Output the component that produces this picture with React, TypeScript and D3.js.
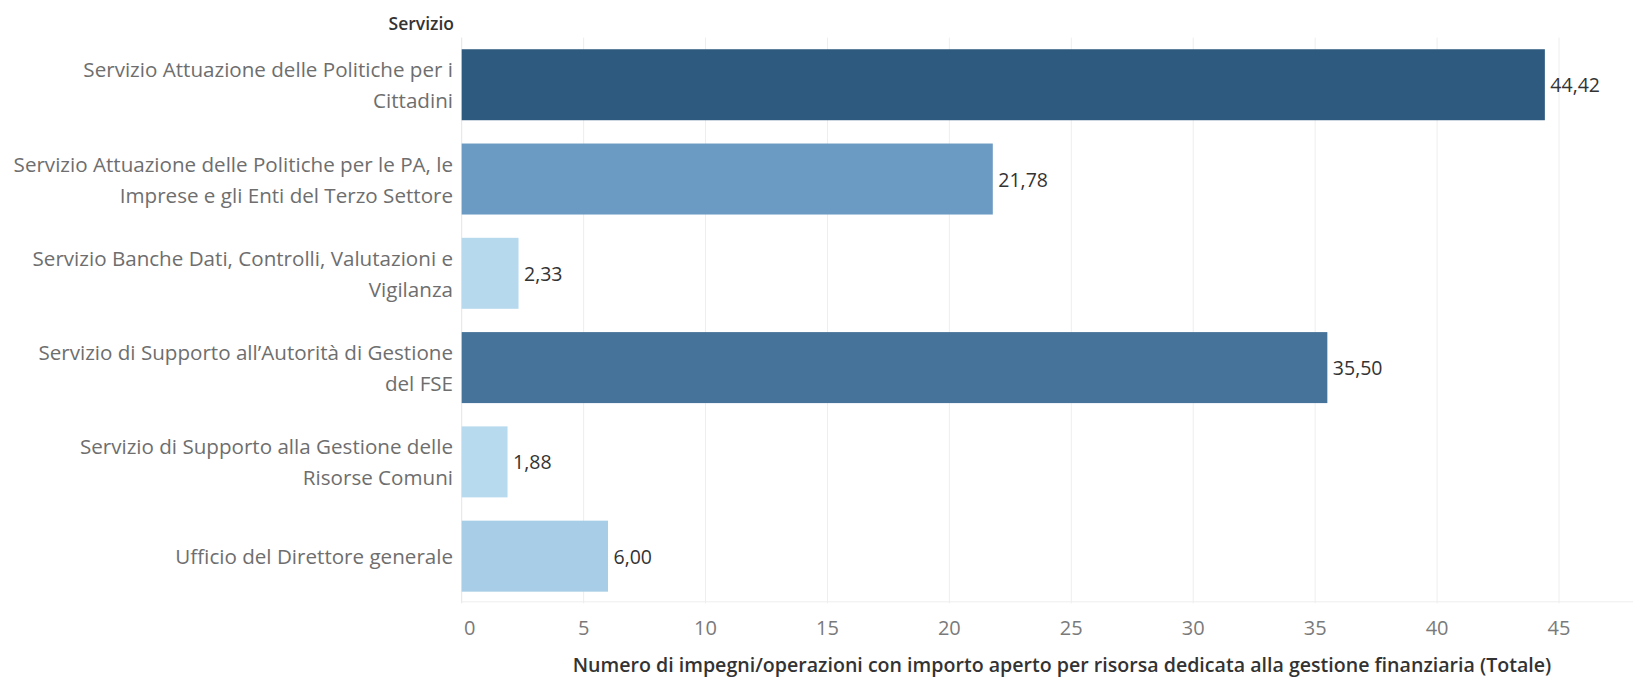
import React from "react";
import * as d3 from "d3";

// Servizio -> numero di impegni/operazioni per risorsa
const categories = [
  "Servizio Attuazione delle Politiche per i\nCittadini",
  "Servizio Attuazione delle Politiche per le PA, le\nImprese e gli Enti del Terzo Settore",
  "Servizio Banche Dati, Controlli, Valutazioni e\nVigilanza",
  "Servizio di Supporto all\u2019Autorit\u00e0 di Gestione\ndel FSE",
  "Servizio di Supporto alla Gestione delle\nRisorse Comuni",
  "Ufficio del Direttore generale",
];
const values = [44.42, 21.78, 2.33, 35.5, 1.88, 6.0];
const xTicks = [0, 5, 10, 15, 20, 25, 30, 35, 40, 45];
const headerLabel = "Servizio";
const axisTitle =
  "Numero di impegni/operazioni con importo aperto per risorsa dedicata alla gestione finanziaria (Totale)";

const W = 1633;
const H = 677;
const FONT = "'Open Sans', 'Noto Sans', sans-serif";

const itLocale = d3.formatLocale({
  decimal: ",",
  thousands: ".",
  grouping: [3],
  currency: ["€", ""],
});
const fmt = itLocale.format(".2f");

const App = () => {
  const x = d3.scaleLinear().domain([0, 45]).range([461.7, 1559]);
  const y = d3
    .scaleBand<number>()
    .domain(d3.range(categories.length))
    .range([37.6, 603.3])
    .paddingInner(0.247)
    .paddingOuter(0.1235);

  const color = d3
    .scaleLinear<string>()
    .domain([d3.min(values)!, 21.78, d3.max(values)!])
    .range(["#b8daef", "#6b9ac2", "#2e5a80"])
    .interpolate(d3.interpolateRgb);

  const paneTop = 37.6;
  const paneBottom = 603.3;

  return (
    <svg
      width={W}
      height={H}
      style={{ position: "absolute", left: 0, top: 0, background: "#fff" }}
      fontFamily={FONT}
    >
      {/* gridlines */}
      {xTicks.map((t) => (
        <line
          key={"g" + t}
          x1={x(t)}
          x2={x(t)}
          y1={paneTop}
          y2={paneBottom}
          stroke={t === 0 ? "#e4e4e4" : "#eeeeee"}
          strokeWidth={1}
        />
      ))}
      <line x1={x(0)} x2={W} y1={paneBottom - 1.5} y2={paneBottom - 1.5} stroke="#eeeeee" />

      {/* header */}
      <text
        x={454}
        y={23}
        textAnchor="end"
        dominantBaseline="central"
        fontSize={17.5}
        fontWeight={600}
        fill="#333"
      >
        {headerLabel}
      </text>

      {/* bars */}
      {values.map((v, i) => (
        <rect
          key={"b" + i}
          x={x(0)}
          y={y(i)}
          width={x(v) - x(0)}
          height={y.bandwidth()}
          fill={color(v)}
        />
      ))}

      {/* value labels */}
      {values.map((v, i) => (
        <text
          key={"v" + i}
          x={x(v) + 5.5}
          y={y(i)! + y.bandwidth() / 2}
          dominantBaseline="central"
          fontSize={19.5}
          fill="#333"
        >
          {fmt(v)}
        </text>
      ))}

      {/* category labels */}
      {categories.map((c, i) => {
        const lines = c.split("\n");
        const cy = y(i)! + y.bandwidth() / 2;
        const lh = 31;
        return (
          <text key={"c" + i} textAnchor="end" fontSize={20.6} fill="#6e6e6e">
            {lines.map((ln, j) => (
              <tspan
                key={j}
                x={453}
                y={cy + (j - (lines.length - 1) / 2) * lh}
                dominantBaseline="central"
              >
                {ln}
              </tspan>
            ))}
          </text>
        );
      })}

      {/* tick labels */}
      {xTicks.map((t) => (
        <text
          key={"t" + t}
          x={x(t) + (t === 0 ? 8 : 0)}
          y={627}
          textAnchor="middle"
          dominantBaseline="central"
          fontSize={20}
          fill="#7a7a7a"
        >
          {t}
        </text>
      ))}

      {/* axis title */}
      <text
        x={1062}
        y={664}
        textAnchor="middle"
        dominantBaseline="central"
        fontSize={19.6}
        fontWeight={600}
        fill="#333"
      >
        {axisTitle}
      </text>
    </svg>
  );
};

export default App;
